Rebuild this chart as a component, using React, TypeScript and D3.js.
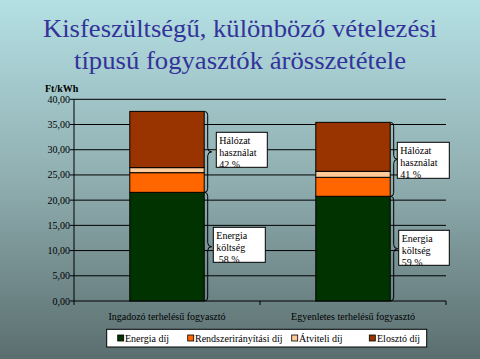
import React from "react";
import * as d3 from "d3";

const categories = ["Ingadozó terhelésű fogyasztó", "Egyenletes terhelésű fogyasztó"];
const seriesNames = ["Energia díj", "Rendszerirányítási díj", "Átviteli díj", "Elosztó díj"];
const energia = [21.55, 20.76];
const rendszer = [3.9, 3.77];
const atviteli = [1.0, 1.19];
const eloszto = [11.15, 9.71];
const colors = ["#003300", "#FF6600", "#FFCC99", "#993300"];
const yTicks = [0, 5, 10, 15, 20, 25, 30, 35, 40];
const networkLabels = [["Hálózat", "használat", "42 %"], ["Hálózat", "használat", "41 %"]];
const energyLabels = [["Energia", "költség", " 58 %"], ["Energia", "költség", "59 %"]];
const titleLines = ["Kisfeszültségű, különböző vételezési", "típusú fogyasztók árösszetétele"];

const W = 480, H = 359;
const x0 = 74, x1 = 446, yTop = 99.3, yBot = 301;
const FONT = "Liberation Serif, DejaVu Serif, serif";

export default function App() {
  const y = d3.scaleLinear().domain([0, 40]).range([yBot, yTop]);
  const xb = d3.scaleBand().domain(categories).range([x0, x1]).paddingInner(0).paddingOuter(0);
  const barW = xb.bandwidth() * 0.4;
  const series = [energia, rendszer, atviteli, eloszto];
  const fmt = (v: number) => v.toFixed(2).replace(".", ",");
  const ts = (extra: any = {}) => ({ fontFamily: FONT, whiteSpace: "pre", ...extra });

  const brace = (x: number, ya: number, yb: number) => {
    const ym = (ya + yb) / 2;
    return `M${x - 3},${ya} Q${x},${ya} ${x},${ya + 4} L${x},${ym - 4} Q${x},${ym} ${x + 4},${ym} Q${x},${ym} ${x},${ym + 4} L${x},${yb - 4} Q${x},${yb} ${x - 3},${yb}`;
  };

  const boxes = [
    { net: { x: 216.3, y: 132.3, w: 51, h: 35 }, en: { x: 213.3, y: 227.3, w: 52, h: 35 } },
    { net: { x: 397.3, y: 142.3, w: 52, h: 36 }, en: { x: 398.7, y: 230.3, w: 50.6, h: 35 } },
  ];

  const legendItems = [
    { sx: 117.7, tx: 125 },
    { sx: 187.7, tx: 195 },
    { sx: 291.7, tx: 299 },
    { sx: 369.3, tx: 377 },
  ];
  const titleLayout = [
    { y: 37, len: 394 },
    { y: 69, len: 332 },
  ];

  return (
    <svg width={W} height={H} style={{ position: "absolute", left: 0, top: 0, fontFamily: FONT }}>
      <defs>
        <linearGradient id="bg" x1="0" y1="0" x2="0" y2="1">
          <stop offset="0%" stopColor="#b4e0e4" />
          <stop offset="50%" stopColor="#90aeb0" />
          <stop offset="100%" stopColor="#5a6e6f" />
        </linearGradient>
        {boxes.map((b, i) => (
          <React.Fragment key={i}>
            <clipPath id={`cn${i}`}><rect x={b.net.x} y={b.net.y} width={b.net.w} height={b.net.h} /></clipPath>
            <clipPath id={`ce${i}`}><rect x={b.en.x} y={b.en.y} width={b.en.w} height={b.en.h} /></clipPath>
          </React.Fragment>
        ))}
      </defs>
      <rect x={0} y={0} width={W} height={H} fill="url(#bg)" />
      {titleLines.map((t, i) => (
        <text key={i} x={240} y={titleLayout[i].y} textAnchor="middle" fontSize={26} fill="#333399"
          textLength={titleLayout[i].len} lengthAdjust="spacingAndGlyphs" style={ts()}>{t}</text>
      ))}

      {yTicks.map((t) => (
        <g key={t}>
          <line x1={x0 - 4} x2={x1} y1={y(t)} y2={y(t)} stroke="#000" strokeWidth={1} />
          <text x={70} y={y(t) + 3.5} textAnchor="end" fontSize={10} fill="#000" style={ts()}>{fmt(t)}</text>
        </g>
      ))}
      <line x1={x0} x2={x0} y1={yTop} y2={yBot} stroke="#000" />
      {[x0, xb(categories[1])!, x1].map((tx, i) => (
        <line key={i} x1={tx} x2={tx} y1={yBot} y2={yBot + 4} stroke="#000" />
      ))}
      <text x={45} y={92} fontSize={10} fontWeight="bold" fill="#000" style={ts()}>Ft/kWh</text>

      {categories.map((c, i) => {
        const cx = xb(c)! + xb.bandwidth() / 2;
        const bx = cx - barW / 2;
        let acc = 0;
        const rects = series.map((s, k) => {
          const v0 = acc;
          acc += s[i];
          return <rect key={k} x={bx} y={y(acc)} width={barW} height={y(v0) - y(acc)} fill={colors[k]} stroke="#000" strokeWidth={1} />;
        });
        const braceX = bx + barW + 3.5;
        const b = boxes[i];
        return (
          <g key={c}>
            {rects}
            <path d={brace(braceX, y(acc), y(energia[i]))} fill="none" stroke="#000" strokeWidth={1} />
            <path d={brace(braceX, y(energia[i]), y(0))} fill="none" stroke="#000" strokeWidth={1} />
            <rect x={b.net.x} y={b.net.y} width={b.net.w} height={b.net.h} fill="#fff" stroke="#000" />
            <g clipPath={`url(#cn${i})`}>
              {networkLabels[i].map((l, j) => (
                <text key={j} x={b.net.x + 3} y={b.net.y + 12 + j * 12} fontSize={10} fill="#000" style={ts()}>{l}</text>
              ))}
            </g>
            <rect x={b.en.x} y={b.en.y} width={b.en.w} height={b.en.h} fill="#fff" stroke="#000" />
            <g clipPath={`url(#ce${i})`}>
              {energyLabels[i].map((l, j) => (
                <text key={j} x={b.en.x + 3} y={b.en.y + 12 + j * 12} fontSize={10} fill="#000" style={ts()}>{l}</text>
              ))}
            </g>
            <text x={cx} y={319.5} textAnchor="middle" fontSize={10} fill="#000" style={ts()}>{c}</text>
          </g>
        );
      })}

      <rect x={106.7} y={329.3} width={320} height={17.7} fill="#fff" stroke="#000" />
      {seriesNames.map((n, k) => (
        <g key={n}>
          <rect x={legendItems[k].sx} y={335} width={6} height={6} fill={colors[k]} stroke="#000" strokeWidth={0.8} />
          <text x={legendItems[k].tx} y={342} fontSize={10} fill="#000" style={ts()}>{n}</text>
        </g>
      ))}
    </svg>
  );
}
